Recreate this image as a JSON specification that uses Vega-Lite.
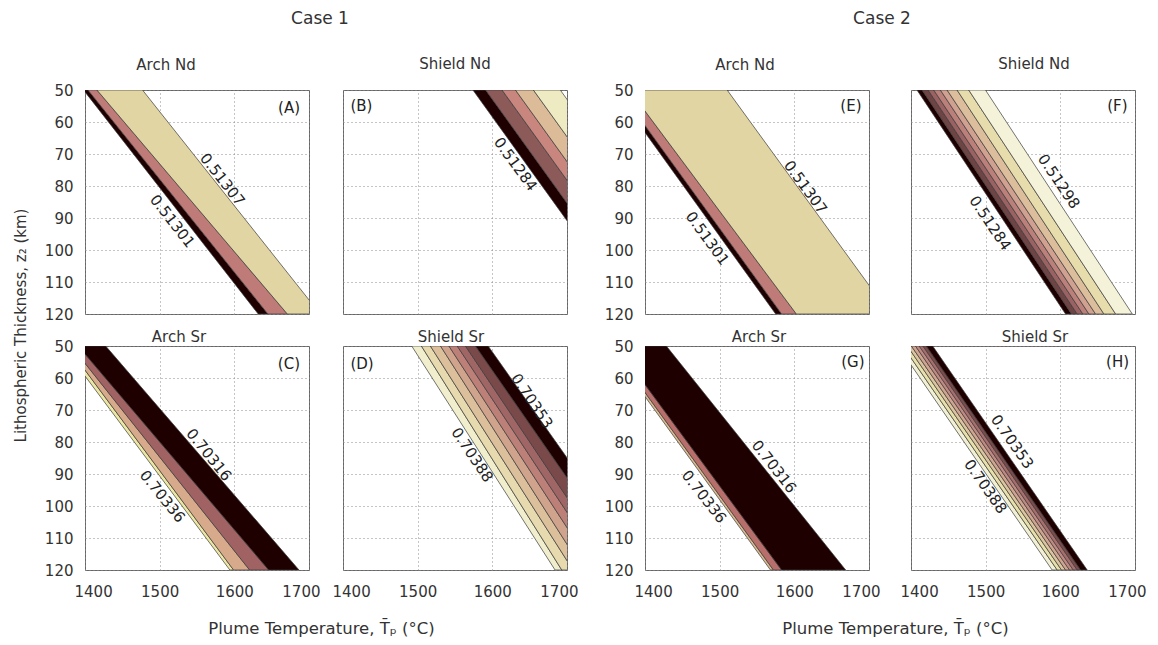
{
 "$schema": "https://vega.github.io/schema/vega-lite/v6.json",
 "background": "white",
 "padding": {"left": 12, "top": 10, "right": 0, "bottom": 0},
 "datasets": {
  "bands": [
   {"p":"A","b":1,"z":50,"lo":1398,"hi":1404},{"p":"A","b":1,"z":120,"lo":1632,"hi":1645},
   {"p":"A","b":2,"z":50,"lo":1404,"hi":1416},{"p":"A","b":2,"z":120,"lo":1645,"hi":1671},
   {"p":"A","b":3,"z":50,"lo":1416,"hi":1477},{"p":"A","b":3,"z":120,"lo":1671,"hi":1715},
   {"p":"B","b":1,"z":50,"lo":1574,"hi":1591},{"p":"B","b":1,"z":120,"lo":1790,"hi":1807},
   {"p":"B","b":2,"z":50,"lo":1591,"hi":1613},{"p":"B","b":2,"z":120,"lo":1807,"hi":1829},
   {"p":"B","b":3,"z":50,"lo":1613,"hi":1631},{"p":"B","b":3,"z":120,"lo":1829,"hi":1847},
   {"p":"B","b":4,"z":50,"lo":1631,"hi":1655},{"p":"B","b":4,"z":120,"lo":1847,"hi":1871},
   {"p":"B","b":5,"z":50,"lo":1655,"hi":1691},{"p":"B","b":5,"z":120,"lo":1871,"hi":1907},
   {"p":"C","b":1,"z":50,"lo":1370,"hi":1376},{"p":"C","b":1,"z":120,"lo":1594,"hi":1599},
   {"p":"C","b":2,"z":50,"lo":1376,"hi":1381.6},{"p":"C","b":2,"z":120,"lo":1599,"hi":1620.5},
   {"p":"C","b":3,"z":50,"lo":1381.6,"hi":1390.9},{"p":"C","b":3,"z":120,"lo":1620.5,"hi":1646},
   {"p":"C","b":4,"z":50,"lo":1390.9,"hi":1427.7},{"p":"C","b":4,"z":120,"lo":1646,"hi":1686.6},
   {"p":"D","b":1,"z":50,"lo":1492,"hi":1505},{"p":"D","b":1,"z":120,"lo":1684,"hi":1693},
   {"p":"D","b":2,"z":50,"lo":1505,"hi":1517},{"p":"D","b":2,"z":120,"lo":1693,"hi":1708},
   {"p":"D","b":3,"z":50,"lo":1517,"hi":1530.6},{"p":"D","b":3,"z":120,"lo":1708,"hi":1722},
   {"p":"D","b":4,"z":50,"lo":1530.6,"hi":1541.8},{"p":"D","b":4,"z":120,"lo":1722,"hi":1737},
   {"p":"D","b":5,"z":50,"lo":1541.8,"hi":1553},{"p":"D","b":5,"z":120,"lo":1737,"hi":1751},
   {"p":"D","b":6,"z":50,"lo":1553,"hi":1564},{"p":"D","b":6,"z":120,"lo":1751,"hi":1765},
   {"p":"D","b":7,"z":50,"lo":1564,"hi":1577.4},{"p":"D","b":7,"z":120,"lo":1765,"hi":1786},
   {"p":"D","b":8,"z":50,"lo":1577.4,"hi":1594.4},{"p":"D","b":8,"z":120,"lo":1786,"hi":1806},
   {"p":"E","b":1,"z":50,"lo":1359,"hi":1365.5},{"p":"E","b":1,"z":120,"lo":1575,"hi":1583},
   {"p":"E","b":2,"z":50,"lo":1365.5,"hi":1379},{"p":"E","b":2,"z":120,"lo":1583,"hi":1602.7},
   {"p":"E","b":3,"z":50,"lo":1379,"hi":1510},{"p":"E","b":3,"z":120,"lo":1602.7,"hi":1728},
   {"p":"F","b":1,"z":50,"lo":1408,"hi":1414.8},{"p":"F","b":1,"z":120,"lo":1607,"hi":1615},
   {"p":"F","b":2,"z":50,"lo":1414.8,"hi":1422.9},{"p":"F","b":2,"z":120,"lo":1615,"hi":1622.6},
   {"p":"F","b":3,"z":50,"lo":1422.9,"hi":1430.4},{"p":"F","b":3,"z":120,"lo":1622.6,"hi":1630.2},
   {"p":"F","b":4,"z":50,"lo":1430.4,"hi":1439.3},{"p":"F","b":4,"z":120,"lo":1630.2,"hi":1638.3},
   {"p":"F","b":5,"z":50,"lo":1439.3,"hi":1448.3},{"p":"F","b":5,"z":120,"lo":1638.3,"hi":1647.2},
   {"p":"F","b":6,"z":50,"lo":1448.3,"hi":1461.7},{"p":"F","b":6,"z":120,"lo":1647.2,"hi":1658.4},
   {"p":"F","b":7,"z":50,"lo":1461.7,"hi":1477.3},{"p":"F","b":7,"z":120,"lo":1658.4,"hi":1674.1},
   {"p":"F","b":8,"z":50,"lo":1477.3,"hi":1499.7},{"p":"F","b":8,"z":120,"lo":1674.1,"hi":1696.4},
   {"p":"G","b":1,"z":50,"lo":1351,"hi":1355},{"p":"G","b":1,"z":120,"lo":1568,"hi":1572},
   {"p":"G","b":2,"z":50,"lo":1355,"hi":1362},{"p":"G","b":2,"z":120,"lo":1572,"hi":1583},
   {"p":"G","b":3,"z":50,"lo":1362,"hi":1428.6},{"p":"G","b":3,"z":120,"lo":1583,"hi":1668.75},
   {"p":"H","b":1,"z":50,"lo":1382.6,"hi":1389},{"p":"H","b":1,"z":120,"lo":1589,"hi":1595.8},
   {"p":"H","b":2,"z":50,"lo":1389,"hi":1395},{"p":"H","b":2,"z":120,"lo":1595.8,"hi":1601.6},
   {"p":"H","b":3,"z":50,"lo":1395,"hi":1400.5},{"p":"H","b":3,"z":120,"lo":1601.6,"hi":1607},
   {"p":"H","b":4,"z":50,"lo":1400.5,"hi":1406},{"p":"H","b":4,"z":120,"lo":1607,"hi":1612.3},
   {"p":"H","b":5,"z":50,"lo":1406,"hi":1411},{"p":"H","b":5,"z":120,"lo":1612.3,"hi":1617.3},
   {"p":"H","b":6,"z":50,"lo":1411,"hi":1416},{"p":"H","b":6,"z":120,"lo":1617.3,"hi":1622.6},
   {"p":"H","b":7,"z":50,"lo":1416,"hi":1420.5},{"p":"H","b":7,"z":120,"lo":1622.6,"hi":1627.1},
   {"p":"H","b":8,"z":50,"lo":1420.5,"hi":1429},{"p":"H","b":8,"z":120,"lo":1627.1,"hi":1636}
  ],
  "labels": [
   {"p":"A","t":"0.51307","T":1584,"z":78},{"p":"A","t":"0.51301","T":1517,"z":91},
   {"p":"B","t":"0.51284","T":1631,"z":73.2},
   {"p":"C","t":"0.70316","T":1566,"z":84},{"p":"C","t":"0.70336","T":1503.6,"z":97},
   {"p":"D","t":"0.70353","T":1653,"z":67.2},{"p":"D","t":"0.70388","T":1573,"z":84},
   {"p":"E","t":"0.51307","T":1615,"z":80.4},{"p":"E","t":"0.51301","T":1483.5,"z":96.4},
   {"p":"F","t":"0.51298","T":1598,"z":78.6},{"p":"F","t":"0.51284","T":1506,"z":91.6},
   {"p":"G","t":"0.70316","T":1572.8,"z":87.7},{"p":"G","t":"0.70336","T":1479,"z":97.1},
   {"p":"H","t":"0.70353","T":1535.5,"z":79.9},{"p":"H","t":"0.70388","T":1499.7,"z":93.9}
  ],
  "tags": [
   {"p":"A","t":"(A)","T":1688,"z":55.5},{"p":"B","t":"(B)","T":1410,"z":55},
   {"p":"C","t":"(C)","T":1688,"z":55.5},{"p":"D","t":"(D)","T":1410,"z":55.5},
   {"p":"E","t":"(E)","T":1690,"z":55},{"p":"F","t":"(F)","T":1690,"z":55},
   {"p":"G","t":"(G)","T":1694,"z":55},{"p":"H","t":"(H)","T":1692,"z":55}
  ]
 },
 "columns": 7,
 "spacing": {"row": 32, "column": 0},
 "bounds": "flush",
 "resolve": {"scale": {"color": "independent"}},
 "concat": [
  {"width":224,"height":224,"title":{"text":"Arch Nd","offset":10,"dx":-31},
   "layer":[
    {"data":{"name":"bands"},"transform":[{"filter":"datum.p==='A'"}],
     "mark":{"type":"area","orient":"horizontal","clip":true,"stroke":"#3a3a3a","strokeWidth":0.7},
     "encoding":{
      "y":{"field":"z","type":"quantitative","scale":{"domain":[50,120],"reverse":true,"nice":false,"zero":false},
           "axis":{"values":[50,60,70,80,90,100,110,120],"tickCount":10,"title":"Lithospheric Thickness, z₂ (km)","titleY":235}},
      "x":{"field":"lo","type":"quantitative","stack":null,"scale":{"domain":[1400,1700],"nice":false,"zero":false},
           "axis":{"values":[1400,1500,1600,1700],"tickCount":10,"labels":false,"title":null}},
      "x2":{"field":"hi"},
      "color":{"field":"b","type":"ordinal","scale":{"range":["#1e0000","#bf7b78","#e1d5a3"]},"legend":null}}},
    {"data":{"name":"labels"},"transform":[{"filter":"datum.p==='A'"}],
     "mark":{"type":"text","angle":52,"fontSize":15,"color":"#222"},
     "encoding":{"x":{"field":"T","type":"quantitative"},"y":{"field":"z","type":"quantitative"},"text":{"field":"t"}}},
    {"data":{"name":"tags"},"transform":[{"filter":"datum.p==='A'"}],
     "mark":{"type":"text","align":"right","fontSize":15,"color":"#222"},
     "encoding":{"x":{"field":"T","type":"quantitative"},"y":{"field":"z","type":"quantitative"},"text":{"field":"t"}}}
   ]},
  {"width":34,"height":224,"view":{"stroke":null},"title":{"text":"Case 1","fontSize":17,"offset":62,"dx":-6},
   "data":{"values":[]},"mark":{"type":"point","opacity":0}},
  {"width":224,"height":224,"title":{"text":"Shield Nd","offset":18,"dx":0},
   "layer":[
    {"data":{"name":"bands"},"transform":[{"filter":"datum.p==='B'"}],
     "mark":{"type":"area","orient":"horizontal","clip":true,"stroke":"#3a3a3a","strokeWidth":0.7},
     "encoding":{
      "y":{"field":"z","type":"quantitative","scale":{"domain":[50,120],"reverse":true,"nice":false,"zero":false},
           "axis":{"values":[50,60,70,80,90,100,110,120],"tickCount":10,"labels":false,"title":null}},
      "x":{"field":"lo","type":"quantitative","stack":null,"scale":{"domain":[1400,1700],"nice":false,"zero":false},
           "axis":{"values":[1400,1500,1600,1700],"tickCount":10,"labels":false,"title":null}},
      "x2":{"field":"hi"},
      "color":{"field":"b","type":"ordinal","scale":{"range":["#1e0000","#8c5a58","#c8867e","#dcbc98","#eeeac2"]},"legend":null}}},
    {"data":{"name":"labels"},"transform":[{"filter":"datum.p==='B'"}],
     "mark":{"type":"text","angle":54,"fontSize":15,"color":"#222"},
     "encoding":{"x":{"field":"T","type":"quantitative"},"y":{"field":"z","type":"quantitative"},"text":{"field":"t"}}},
    {"data":{"name":"tags"},"transform":[{"filter":"datum.p==='B'"}],
     "mark":{"type":"text","align":"left","fontSize":15,"color":"#222"},
     "encoding":{"x":{"field":"T","type":"quantitative"},"y":{"field":"z","type":"quantitative"},"text":{"field":"t"}}}
   ]},
  {"width":78,"height":224,"view":{"stroke":null},"data":{"values":[]},"mark":{"type":"point","opacity":0}},
  {"width":224,"height":224,"title":{"text":"Arch Nd","offset":10,"dx":-12},
   "layer":[
    {"data":{"name":"bands"},"transform":[{"filter":"datum.p==='E'"}],
     "mark":{"type":"area","orient":"horizontal","clip":true,"stroke":"#3a3a3a","strokeWidth":0.7},
     "encoding":{
      "y":{"field":"z","type":"quantitative","scale":{"domain":[50,120],"reverse":true,"nice":false,"zero":false},
           "axis":{"values":[50,60,70,80,90,100,110,120],"tickCount":10,"title":null}},
      "x":{"field":"lo","type":"quantitative","stack":null,"scale":{"domain":[1400,1700],"nice":false,"zero":false},
           "axis":{"values":[1400,1500,1600,1700],"tickCount":10,"labels":false,"title":null}},
      "x2":{"field":"hi"},
      "color":{"field":"b","type":"ordinal","scale":{"range":["#1e0000","#bf7b78","#e1d5a3"]},"legend":null}}},
    {"data":{"name":"labels"},"transform":[{"filter":"datum.p==='E'"}],
     "mark":{"type":"text","angle":54,"fontSize":15,"color":"#222"},
     "encoding":{"x":{"field":"T","type":"quantitative"},"y":{"field":"z","type":"quantitative"},"text":{"field":"t"}}},
    {"data":{"name":"tags"},"transform":[{"filter":"datum.p==='E'"}],
     "mark":{"type":"text","align":"right","fontSize":15,"color":"#222"},
     "encoding":{"x":{"field":"T","type":"quantitative"},"y":{"field":"z","type":"quantitative"},"text":{"field":"t"}}}
   ]},
  {"width":42,"height":224,"view":{"stroke":null},"title":{"text":"Case 2","fontSize":17,"offset":62,"dx":-8},
   "data":{"values":[]},"mark":{"type":"point","opacity":0}},
  {"width":224,"height":224,"title":{"text":"Shield Nd","offset":18,"dx":11},
   "layer":[
    {"data":{"name":"bands"},"transform":[{"filter":"datum.p==='F'"}],
     "mark":{"type":"area","orient":"horizontal","clip":true,"stroke":"#3a3a3a","strokeWidth":0.7},
     "encoding":{
      "y":{"field":"z","type":"quantitative","scale":{"domain":[50,120],"reverse":true,"nice":false,"zero":false},
           "axis":{"values":[50,60,70,80,90,100,110,120],"tickCount":10,"labels":false,"title":null}},
      "x":{"field":"lo","type":"quantitative","stack":null,"scale":{"domain":[1400,1700],"nice":false,"zero":false},
           "axis":{"values":[1400,1500,1600,1700],"tickCount":10,"labels":false,"title":null}},
      "x2":{"field":"hi"},
      "color":{"field":"b","type":"ordinal","scale":{"range":["#1e0000","#6e4444","#9a6262","#bc807a","#d0a090","#dcbe9c","#e6dcac","#f4f2d8"]},"legend":null}}},
    {"data":{"name":"labels"},"transform":[{"filter":"datum.p==='F'"}],
     "mark":{"type":"text","angle":56,"fontSize":15,"color":"#222"},
     "encoding":{"x":{"field":"T","type":"quantitative"},"y":{"field":"z","type":"quantitative"},"text":{"field":"t"}}},
    {"data":{"name":"tags"},"transform":[{"filter":"datum.p==='F'"}],
     "mark":{"type":"text","align":"right","fontSize":15,"color":"#222"},
     "encoding":{"x":{"field":"T","type":"quantitative"},"y":{"field":"z","type":"quantitative"},"text":{"field":"t"}}}
   ]},
  {"width":224,"height":224,"title":{"text":"Arch Sr","offset":-6,"dx":-18},
   "layer":[
    {"data":{"name":"bands"},"transform":[{"filter":"datum.p==='C'"}],
     "mark":{"type":"area","orient":"horizontal","clip":true,"stroke":"#3a3a3a","strokeWidth":0.7},
     "encoding":{
      "y":{"field":"z","type":"quantitative","scale":{"domain":[50,120],"reverse":true,"nice":false,"zero":false},
           "axis":{"values":[50,60,70,80,90,100,110,120],"tickCount":10,"title":null}},
      "x":{"field":"lo","type":"quantitative","stack":null,"scale":{"domain":[1400,1700],"nice":false,"zero":false},
           "axis":{"values":[1400,1500,1600,1700],"tickCount":10,"title":"Plume Temperature,  T̄ₚ (°C)","titleX":236,"titleFontSize":16.5}},
      "x2":{"field":"hi"},
      "color":{"field":"b","type":"ordinal","scale":{"range":["#ece8a4","#d8aa8c","#a06262","#1e0000"]},"legend":null}}},
    {"data":{"name":"labels"},"transform":[{"filter":"datum.p==='C'"}],
     "mark":{"type":"text","angle":51,"fontSize":15,"color":"#222"},
     "encoding":{"x":{"field":"T","type":"quantitative"},"y":{"field":"z","type":"quantitative"},"text":{"field":"t"}}},
    {"data":{"name":"tags"},"transform":[{"filter":"datum.p==='C'"}],
     "mark":{"type":"text","align":"right","fontSize":15,"color":"#222"},
     "encoding":{"x":{"field":"T","type":"quantitative"},"y":{"field":"z","type":"quantitative"},"text":{"field":"t"}}}
   ]},
  {"width":34,"height":224,"view":{"stroke":null},"data":{"values":[]},"mark":{"type":"point","opacity":0}},
  {"width":224,"height":224,"title":{"text":"Shield Sr","offset":1,"dx":-4},
   "layer":[
    {"data":{"name":"bands"},"transform":[{"filter":"datum.p==='D'"}],
     "mark":{"type":"area","orient":"horizontal","clip":true,"stroke":"#3a3a3a","strokeWidth":0.7},
     "encoding":{
      "y":{"field":"z","type":"quantitative","scale":{"domain":[50,120],"reverse":true,"nice":false,"zero":false},
           "axis":{"values":[50,60,70,80,90,100,110,120],"tickCount":10,"labels":false,"title":null}},
      "x":{"field":"lo","type":"quantitative","stack":null,"scale":{"domain":[1400,1700],"nice":false,"zero":false},
           "axis":{"values":[1400,1500,1600,1700],"tickCount":10,"title":null}},
      "x2":{"field":"hi"},
      "color":{"field":"b","type":"ordinal","scale":{"range":["#f0eecc","#e6daae","#dcc09c","#d0a48c","#bc8078","#a06666","#7a4a4a","#1e0000"]},"legend":null}}},
    {"data":{"name":"labels"},"transform":[{"filter":"datum.p==='D'"}],
     "mark":{"type":"text","angle":56,"fontSize":15,"color":"#222"},
     "encoding":{"x":{"field":"T","type":"quantitative"},"y":{"field":"z","type":"quantitative"},"text":{"field":"t"}}},
    {"data":{"name":"tags"},"transform":[{"filter":"datum.p==='D'"}],
     "mark":{"type":"text","align":"left","fontSize":15,"color":"#222"},
     "encoding":{"x":{"field":"T","type":"quantitative"},"y":{"field":"z","type":"quantitative"},"text":{"field":"t"}}}
   ]},
  {"width":78,"height":224,"view":{"stroke":null},"data":{"values":[]},"mark":{"type":"point","opacity":0}},
  {"width":224,"height":224,"title":{"text":"Arch Sr","offset":-6,"dx":2},
   "layer":[
    {"data":{"name":"bands"},"transform":[{"filter":"datum.p==='G'"}],
     "mark":{"type":"area","orient":"horizontal","clip":true,"stroke":"#3a3a3a","strokeWidth":0.7},
     "encoding":{
      "y":{"field":"z","type":"quantitative","scale":{"domain":[50,120],"reverse":true,"nice":false,"zero":false},
           "axis":{"values":[50,60,70,80,90,100,110,120],"tickCount":10,"title":null}},
      "x":{"field":"lo","type":"quantitative","stack":null,"scale":{"domain":[1400,1700],"nice":false,"zero":false},
           "axis":{"values":[1400,1500,1600,1700],"tickCount":10,"title":"Plume Temperature,  T̄ₚ (°C)","titleX":250,"titleFontSize":16.5}},
      "x2":{"field":"hi"},
      "color":{"field":"b","type":"ordinal","scale":{"range":["#d8b88e","#b86e6a","#1e0000"]},"legend":null}}},
    {"data":{"name":"labels"},"transform":[{"filter":"datum.p==='G'"}],
     "mark":{"type":"text","angle":52,"fontSize":15,"color":"#222"},
     "encoding":{"x":{"field":"T","type":"quantitative"},"y":{"field":"z","type":"quantitative"},"text":{"field":"t"}}},
    {"data":{"name":"tags"},"transform":[{"filter":"datum.p==='G'"}],
     "mark":{"type":"text","align":"right","fontSize":15,"color":"#222"},
     "encoding":{"x":{"field":"T","type":"quantitative"},"y":{"field":"z","type":"quantitative"},"text":{"field":"t"}}}
   ]},
  {"width":42,"height":224,"view":{"stroke":null},"data":{"values":[]},"mark":{"type":"point","opacity":0}},
  {"width":224,"height":224,"title":{"text":"Shield Sr","offset":1,"dx":12},
   "layer":[
    {"data":{"name":"bands"},"transform":[{"filter":"datum.p==='H'"}],
     "mark":{"type":"area","orient":"horizontal","clip":true,"stroke":"#3a3a3a","strokeWidth":0.7},
     "encoding":{
      "y":{"field":"z","type":"quantitative","scale":{"domain":[50,120],"reverse":true,"nice":false,"zero":false},
           "axis":{"values":[50,60,70,80,90,100,110,120],"tickCount":10,"labels":false,"title":null}},
      "x":{"field":"lo","type":"quantitative","stack":null,"scale":{"domain":[1400,1700],"nice":false,"zero":false},
           "axis":{"values":[1400,1500,1600,1700],"tickCount":10,"title":null}},
      "x2":{"field":"hi"},
      "color":{"field":"b","type":"ordinal","scale":{"range":["#f2f0d4","#e8e0aa","#dcc49e","#d0a48e","#c08a82","#a86e6c","#7c4c4c","#1e0000"]},"legend":null}}},
    {"data":{"name":"labels"},"transform":[{"filter":"datum.p==='H'"}],
     "mark":{"type":"text","angle":55,"fontSize":15,"color":"#222"},
     "encoding":{"x":{"field":"T","type":"quantitative"},"y":{"field":"z","type":"quantitative"},"text":{"field":"t"}}},
    {"data":{"name":"tags"},"transform":[{"filter":"datum.p==='H'"}],
     "mark":{"type":"text","align":"right","fontSize":15,"color":"#222"},
     "encoding":{"x":{"field":"T","type":"quantitative"},"y":{"field":"z","type":"quantitative"},"text":{"field":"t"}}}
   ]}
 ],
 "config": {
  "font": "DejaVu Sans",
  "numberFormat": "d",
  "view": {"stroke": "#666", "strokeWidth": 1},
  "axis": {"grid": true, "gridDash": [1, 3], "gridColor": "#8a8a8a", "gridWidth": 1, "domain": false, "ticks": false,
           "labelOverlap": false,
           "labelFontSize": 15, "labelColor": "#333", "labelFont": "DejaVu Sans",
           "titleFontSize": 15, "titleColor": "#333", "titleFontWeight": "normal", "titleFont": "DejaVu Sans", "zindex": 1},
  "axisX": {"labelPadding": 14, "titlePadding": 21, "labelFlush": true, "labelFlushOffset": 11},
  "axisY": {"labelPadding": 12, "titlePadding": 16, "labelFlush": false},
  "title": {"fontSize": 15, "fontWeight": "normal", "color": "#333", "font": "DejaVu Sans", "frame": "group"},
  "text": {"font": "DejaVu Sans"}
 }
}
